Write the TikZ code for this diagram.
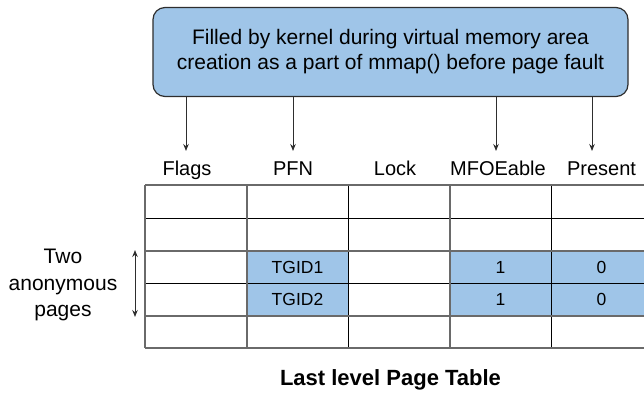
\documentclass[tikz,border=0pt]{standalone}
\usepackage{fontspec}
\setmainfont{Liberation Sans}
\usetikzlibrary{arrows.meta}
\definecolor{cellblue}{HTML}{9FC5E8}
\definecolor{linegray}{HTML}{6A6A6A}
\definecolor{edge}{HTML}{2E2E2E}
\begin{document}
\begin{tikzpicture}[x=1pt,y=-1pt,
  hdr/.style={font=\fontsize{20}{24}\selectfont, anchor=base, inner sep=0pt},
  cell/.style={font=\fontsize{17.5}{21}\selectfont, inner sep=0pt},
  tip/.style={Stealth[length=7pt,width=5.5pt]},
  conn/.style={-{Stealth[length=7pt,width=5.5pt]}, line width=1pt, draw=edge},
  gridA/.style={draw=linegray, line width=1.4pt},
  gridB/.style={draw=black, line width=0.8pt}]
\useasboundingbox (0,0) rectangle (644,392);
% top box
\node[draw=edge, line width=1.2pt, fill=cellblue, rounded corners=12pt,
  minimum width=475pt, minimum height=89pt, inner sep=0pt,
  align=center, font=\fontsize{21}{25}\selectfont] (box) at (390.5,52)
  {Filled by kernel during virtual memory area\\creation as a part of mmap() before page fault};
% headers
\node[hdr] (hflags) at (187,175) {Flags};
\node[hdr] (hpfn) at (293,175) {PFN};
\node[hdr] (hlock) at (395,175) {Lock};
\node[hdr] (hmfo) at (498,175) {MFOEable};
\node[hdr] (hpres) at (601.5,175) {Present};
% arrow ends
\coordinate (a1) at (186,151);
\coordinate (a2) at (293,151);
\coordinate (a3) at (496,151);
\coordinate (a4) at (592,151);
\draw[conn] (box.south -| a1) -- (a1);
\draw[conn] (box.south -| a2) -- (a2);
\draw[conn] (box.south -| a3) -- (a3);
\draw[conn] (box.south -| a4) -- (a4);
% blue cells
\fill[cellblue] (247,251) rectangle (348,316);
\fill[cellblue] (450,251) rectangle (652,316);
% grid
\draw[gridB] (145,218) -- (652,218);
\draw[gridB] (145,283) -- (652,283);
\draw[gridB] (348,185) -- (348,348);
\draw[gridB] (551,185) -- (551,348);
\draw[gridA] (145,185) -- (652,185);
\draw[gridA] (145,251) -- (652,251);
\draw[gridA] (145,316) -- (652,316);
\draw[gridA] (145,348) -- (652,348);
\draw[gridA] (145,185) -- (145,348);
\draw[gridA] (247,185) -- (247,348);
\draw[gridA] (450,185) -- (450,348);
% cell texts
\node[cell] (t1) at (297.5,267.5) {TGID1};
\node[cell] (t2) at (297.5,299.5) {TGID2};
\node[cell] (m1) at (500.5,267.5) {1};
\node[cell] (m2) at (500.5,299.5) {1};
\node[cell] (p1) at (601.5,267.5) {0};
\node[cell] (p2) at (601.5,299.5) {0};
% side label
\node[align=center, inner sep=0pt, font=\fontsize{21}{26.5}\selectfont] (side) at (63,285)
  {Two\\anonymous\\pages};
\coordinate (s1) at (135,250);
\coordinate (s2) at (135,317);
\draw[{Stealth[length=7pt,width=5.5pt]}-{Stealth[length=7pt,width=5.5pt]}, line width=1pt, draw=edge] (s1) -- (s2);
% title
\node[font=\bfseries\fontsize{22}{26}\selectfont, anchor=base, inner sep=0pt] (title) at (390.5,385) {Last level Page Table};
\end{tikzpicture}
\end{document}
